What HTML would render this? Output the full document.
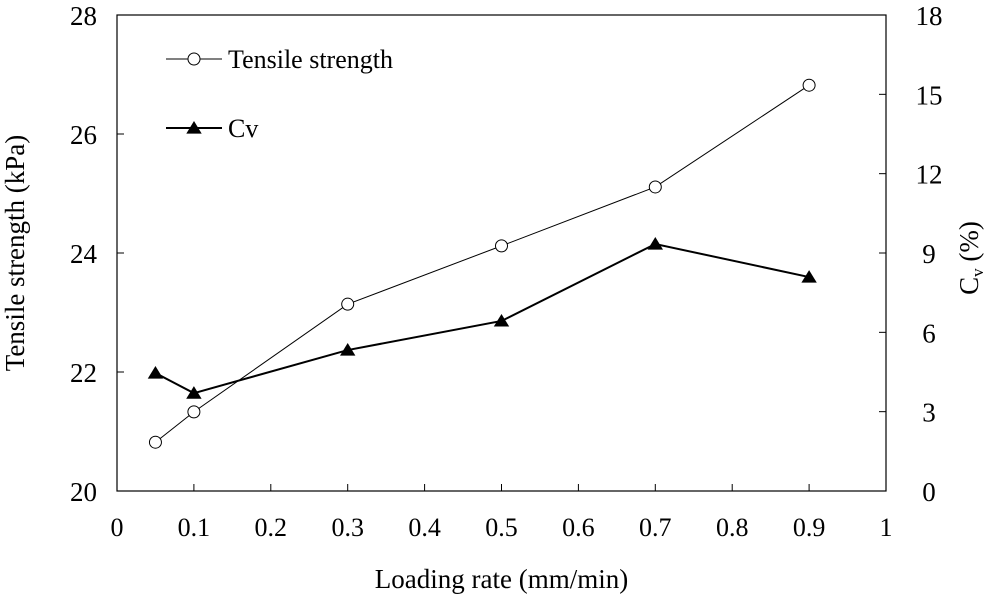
<!DOCTYPE html>
<html><head><meta charset="utf-8"><style>
body{margin:0;background:#fff}
svg{display:block;font-family:"Liberation Serif",serif}
</style></head><body>
<svg id="chart" width="990" height="599" viewBox="0 0 990 599"></svg>
<script>
const xCats=[0.05,0.1,0.3,0.5,0.7,0.9];
const tensile=[20.82,21.33,23.14,24.12,25.11,26.82];
const cv=[4.46,3.7,5.33,6.43,9.34,8.09];
const xTicks=["0","0.1","0.2","0.3","0.4","0.5","0.6","0.7","0.8","0.9","1"];
const yLeftTicks=["20","22","24","26","28"];
const yRightTicks=["0","3","6","9","12","15","18"];
const L=117,R=886,T=15,B=491;
const sx=v=>L+(v-0)/(1-0)*(R-L);
const sy=v=>B-(v-20)/(28-20)*(B-T);
const sy2=v=>B-(v-0)/(18-0)*(B-T);
const svg=document.getElementById('chart');
const NS='http://www.w3.org/2000/svg';
function mk(tag,attrs,parent){const e=document.createElementNS(NS,tag);for(const k in attrs)e.setAttribute(k,attrs[k]);(parent||svg).appendChild(e);return e;}
function txt(s,attrs){const e=mk('text',attrs);e.textContent=s;return e;}
let e=mk('rect',{x:L,y:T,width:R-L,height:B-T,fill:'none',stroke:'#000','stroke-width':1.2});


xTicks.forEach(t=>{const x=sx(+t);
 let l=mk('line',{x1:x,y1:B,x2:x,y2:B-7,stroke:'#000'});
 
 
 let tt=txt(t,{x:x,y:B+45,'font-size':26,'text-anchor':'middle'});
 
 
});
yLeftTicks.forEach(t=>{const y=sy(+t);
 let l=mk('line',{x1:L,y1:y,x2:L+7,y2:y,stroke:'#000'});
 
 
 let tt=txt(t,{x:L-20,y:y+10,'font-size':27,'text-anchor':'end'});
 
 
});
yRightTicks.forEach(t=>{const y=sy2(+t);
 let l=mk('line',{x1:R,y1:y,x2:R-7,y2:y,stroke:'#000'});
 
 
 let tt=txt(t,{x:R+43,y:y+10,'font-size':27,'text-anchor':'middle'});
 
 
});
let xt=txt('Loading rate (mm/min)',{x:(L+R)/2,y:588,'font-size':27,'text-anchor':'middle'});


let yt=txt('Tensile strength (kPa)',{x:0,y:0,'font-size':27,'text-anchor':'middle',transform:`translate(24,${(T+B)/2}) rotate(-90)`});


let y2=mk('text',{'font-size':27,'text-anchor':'middle',transform:`translate(978,${(T+B)/2+5}) rotate(-90)`});
y2.innerHTML='C<tspan font-size="17" dy="5">v</tspan><tspan dy="-5"> (%)</tspan>';


let p1=mk('polyline',{points:xCats.map((x,i)=>sx(x)+','+sy(tensile[i])).join(' '),fill:'none',stroke:'#000','stroke-width':1});


let p2=mk('polyline',{points:xCats.map((x,i)=>sx(x)+','+sy2(cv[i])).join(' '),fill:'none',stroke:'#000','stroke-width':2});


function tri(cx,cy,s){return `${cx},${cy-s} ${cx-s*1.1},${cy+s*0.8} ${cx+s*1.1},${cy+s*0.8}`;}
xCats.forEach((x,i)=>{
 let c=mk('circle',{cx:sx(x),cy:sy(tensile[i]),r:6,fill:'#fff',stroke:'#000','stroke-width':1});
 
 
 let t=mk('polygon',{points:tri(sx(x),sy2(cv[i]),7),fill:'#000'});
 
 
});
let g=mk('g',{});


mk('line',{x1:166,y1:59,x2:222,y2:59,stroke:'#000'},g);
mk('circle',{cx:194,cy:59,r:6,fill:'#fff',stroke:'#000'},g);
let lt=mk('text',{x:228,y:68,'font-size':26},g);lt.textContent='Tensile strength';
mk('line',{x1:166,y1:128,x2:222,y2:128,stroke:'#000','stroke-width':2},g);
mk('polygon',{points:tri(194,128,7),fill:'#000'},g);
let lt2=mk('text',{x:228,y:137,'font-size':26},g);lt2.textContent='Cv';
</script>
</body></html>
